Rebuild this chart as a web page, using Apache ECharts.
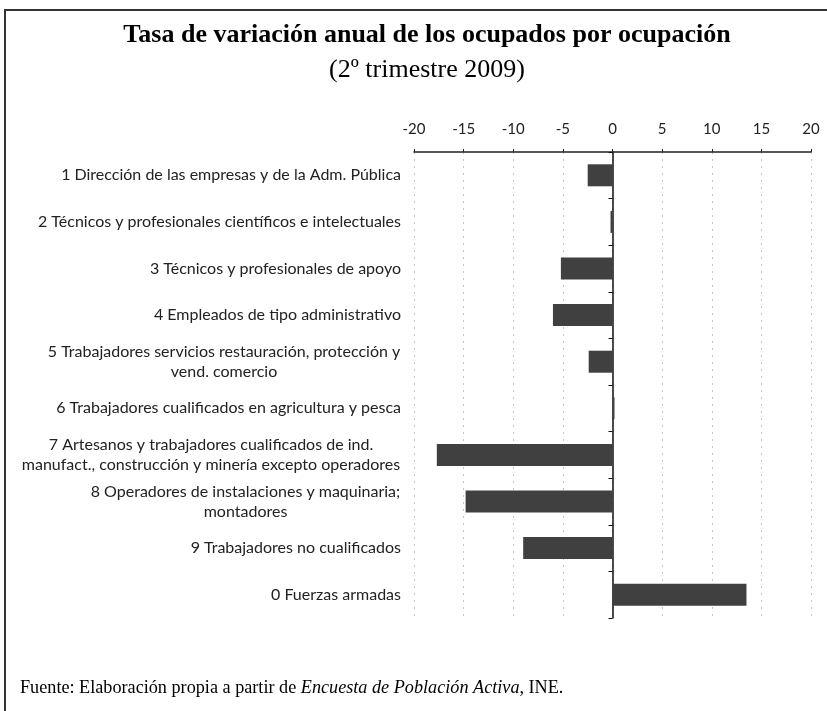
<!DOCTYPE html>
<html>
<head>
<meta charset="utf-8">
<title>Tasa de variación anual de los ocupados por ocupación</title>
<script src="https://cdn.jsdelivr.net/npm/echarts@6/dist/echarts.min.js"></script>
<style>
  html, body { margin: 0; padding: 0; background: #fff; }
  #chart { width: 827px; height: 711px; }
</style>
</head>
<body>
<div id="chart"></div>
<script>
// categorias (de arriba a abajo)
var categories = [
  '1 Dirección de las empresas y de la Adm. Pública',
  '2 Técnicos y profesionales científicos e intelectuales',
  '3 Técnicos y profesionales de apoyo',
  '4 Empleados de tipo administrativo',
  '5 Trabajadores servicios restauración, protección y\nvend. comercio',
  '6 Trabajadores cualificados en agricultura y pesca',
  '7 Artesanos y trabajadores cualificados de ind.\nmanufact., construcción y minería excepto operadores',
  '8 Operadores de instalaciones y maquinaria;\nmontadores',
  '9 Trabajadores no cualificados',
  '0 Fuerzas armadas'
]
// tasa de variacion (%)
var values = [-2.5, -0.2, -5.2, -6.0, -2.4, 0.2, -17.7, -14.8, -9.0, 13.5]
// eje x
var xMin = -20
var xMax = 20
var xStep = 5

var titleText = 'Tasa de variación anual de los ocupados por ocupación'
var subtitleText = '(2º trimestre 2009)'

var labelFont = '16px Lato'

// ancho de la linea mas larga, para centrar las etiquetas de dos lineas
var ctx = document.createElement('canvas').getContext('2d')
ctx.font = labelFont
var rich = {}
categories.forEach(function (c, i) {
  if (c.indexOf('\n') >= 0) {
    var w = 0
    c.split('\n').forEach(function (l) {
      w = Math.max(w, ctx.measureText(l).width)
    })
    rich['m' + i] = { width: Math.ceil(w) + 1, align: 'center', fontFamily: 'Lato', fontSize: 16, lineHeight: 20, color: '#222' }
  }
})

var myChart = echarts.init(document.getElementById('chart'))
var options = {
  backgroundColor: '#fff',
  animation: false,
  title: [
    {
      text: titleText,
      left: 427,
      top: 22,
      textAlign: 'center',
      padding: 0,
      textStyle: { fontFamily: 'Liberation Serif', fontWeight: 'bold', fontSize: 26, color: '#000' }
    },
    {
      text: subtitleText,
      left: 427,
      top: 57,
      textAlign: 'center',
      padding: 0,
      textStyle: { fontFamily: 'Liberation Serif', fontWeight: 'normal', fontSize: 26, color: '#000' }
    },
    {
      text: '{n|Fuente: Elaboración propia a partir de }{i|Encuesta de Población Activa}{n|, INE.}',
      left: 20,
      top: 679,
      padding: 0,
      textStyle: {
        fontWeight: 'normal',
        rich: {
          n: { fontFamily: 'Liberation Serif', fontSize: 18.2, fontWeight: 'normal', color: '#000' },
          i: { fontFamily: 'Liberation Serif', fontSize: 18.2, fontWeight: 'normal', fontStyle: 'italic', color: '#000' }
        }
      }
    }
  ],
  graphic: [
    {
      type: 'rect',
      silent: true,
      shape: { x: 5, y: 10, width: 900, height: 800 },
      style: { fill: 'none', stroke: '#333', lineWidth: 2 }
    }
  ],
  grid: {
    left: 414,
    right: 16,
    top: 152,
    bottom: 93,
    containLabel: false
  },
  xAxis: {
    type: 'value',
    position: 'top',
    min: xMin,
    max: xMax,
    interval: xStep,
    axisLine: { show: true, onZero: false, lineStyle: { color: '#222', width: 1.5 } },
    axisTick: { show: true, length: 3, lineStyle: { color: '#222' } },
    axisLabel: { margin: 15, fontFamily: 'Lato', fontSize: 15, color: '#222' },
    splitLine: { show: true, lineStyle: { type: [2, 5], color: '#c4c4c4', width: 1 } }
  },
  yAxis: [
    {
      type: 'category',
      data: categories,
      inverse: true,
      position: 'left',
      axisLine: { show: false, onZero: false },
      axisTick: { show: false },
      splitLine: { show: false },
      axisLabel: {
        margin: 13,
        fontFamily: 'Lato',
        fontSize: 16,
        lineHeight: 20,
        color: '#222',
        formatter: function (v, i) {
          if (rich['m' + i]) return '{m' + i + '|' + v + '}'
          return v
        },
        rich: rich
      }
    },
    {
      type: 'category',
      data: categories,
      inverse: true,
      position: 'left',
      axisLine: { show: true, onZero: true, lineStyle: { color: '#111', width: 1.5 } },
      axisTick: { show: true, length: 4, lineStyle: { color: '#111' } },
      axisLabel: { show: false },
      splitLine: { show: false }
    }
  ],
  series: [
    {
      type: 'bar',
      yAxisIndex: 0,
      barWidth: 22,
      itemStyle: { color: '#404040' },
      data: values
    }
  ]
}
myChart.setOption(options)
</script>
</body>
</html>
